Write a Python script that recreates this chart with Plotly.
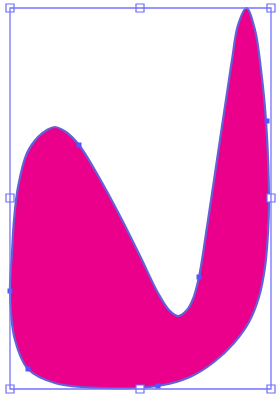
import plotly.graph_objects as go

# Outline of the filled shape (anchor samples, pixel space), clockwise from the top peak
outline_x = [246.5, 255, 261, 266, 269, 268, 265, 259, 249, 234, 214, 190, 158, 100, 55, 28, 15, 10, 12, 14, 18, 27, 38, 47, 55, 66, 79, 100, 120, 141, 158, 169, 178, 187, 193, 199, 207, 217, 227, 232, 238, 246.5]
outline_y = [8, 30, 70, 121, 200, 233, 267, 297, 322, 343, 362, 377, 386, 388, 383, 369, 340, 292, 253, 220, 187, 153, 137, 130, 127, 132, 145, 179, 216, 258, 293, 310, 316, 310, 299, 277, 227, 160, 93, 60, 25, 8]

# Selected path anchor points
anchor_x = [79, 267, 199, 158, 28, 10]
anchor_y = [145, 121, 277, 386, 369, 291]

# Bounding box and its handles
box_x0, box_y0, box_x1, box_y1 = 10, 8, 271, 389
handle_x = [10, 140, 271, 10, 271, 10, 140, 271]
handle_y = [8, 8, 8, 198, 198, 389, 389, 389]

fig = go.Figure()

fig.add_trace(go.Scatter(
    x=outline_x, y=outline_y, mode="lines",
    line=dict(color="#6262d8", width=2.2, shape="spline", smoothing=1.0),
    fill="toself", fillcolor="#ea008a", hoverinfo="skip", showlegend=False,
))

fig.add_shape(type="rect", x0=box_x0, y0=box_y0, x1=box_x1, y1=box_y1,
              line=dict(color="#7373ff", width=1.3), layer="above")

fig.add_trace(go.Scatter(
    x=anchor_x, y=anchor_y, mode="markers", cliponaxis=False,
    marker=dict(symbol="square", size=5, color="#5555ff", line=dict(width=0)),
    hoverinfo="skip", showlegend=False,
))

fig.add_trace(go.Scatter(
    x=handle_x, y=handle_y, mode="markers", cliponaxis=False,
    marker=dict(symbol="square", size=8, color="white", line=dict(color="#6b6bff", width=1.2)),
    hoverinfo="skip", showlegend=False,
))

fig.update_layout(
    width=276, height=396,
    margin=dict(l=0, r=0, t=0, b=0),
    paper_bgcolor="white", plot_bgcolor="white",
    xaxis=dict(range=[0, 276], visible=False, fixedrange=True),
    yaxis=dict(range=[396, 0], visible=False, fixedrange=True),
)

fig.write_html("out.html", config={"displayModeBar": False},
               post_script="document.body.style.margin='0';document.body.style.overflow='hidden';")
